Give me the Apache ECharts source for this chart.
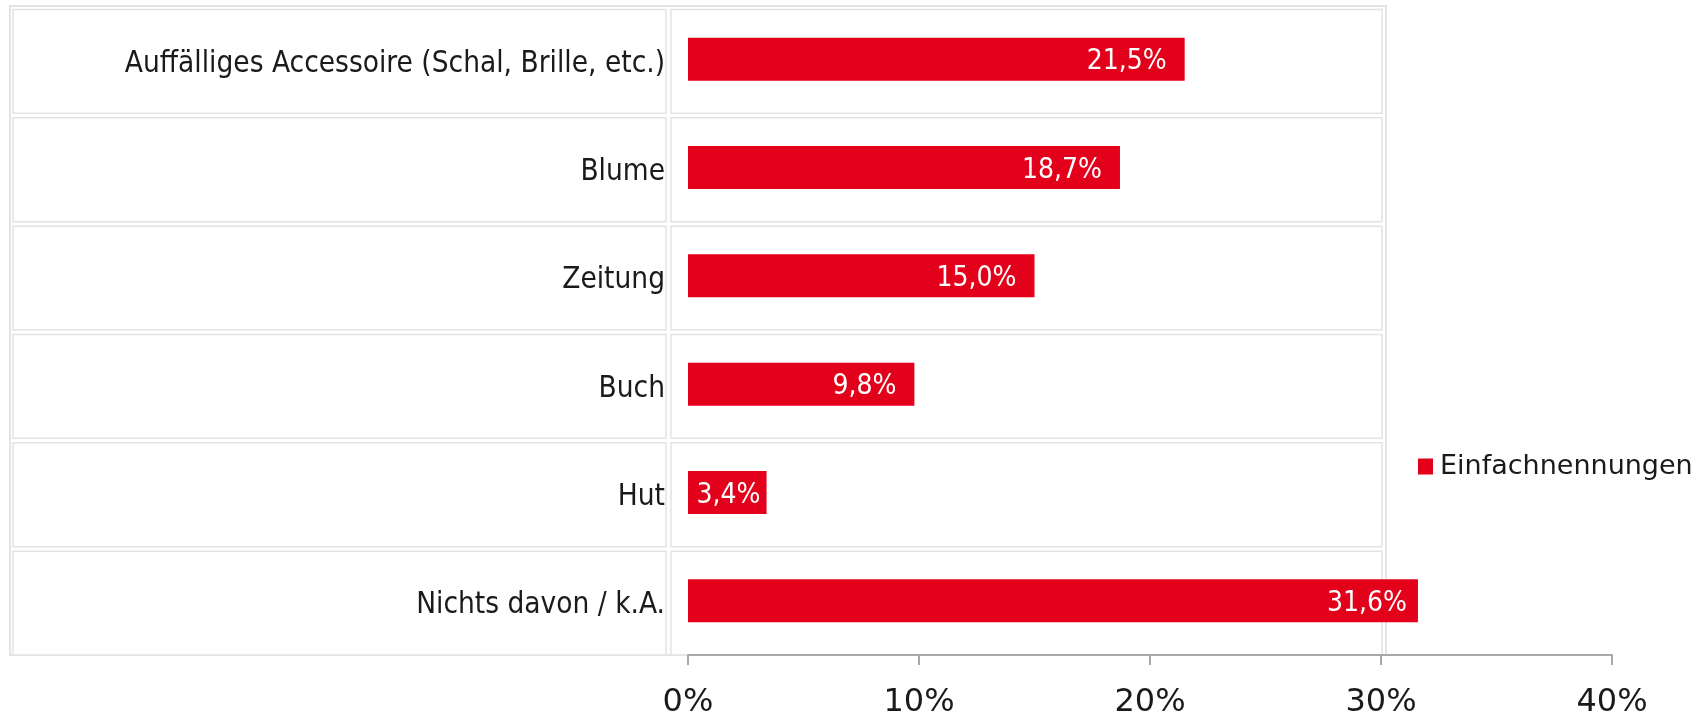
<!DOCTYPE html>
<html>
<head>
<meta charset="utf-8">
<script src="https://cdn.jsdelivr.net/npm/echarts@6/dist/echarts.min.js"></script>
<style>
html,body{margin:0;padding:0;background:#fff;}
#chart{width:1702px;height:715px;}
</style>
</head>
<body>
<div id="chart"></div>
<script>
const categories = ['Auffälliges Accessoire (Schal, Brille, etc.)', 'Blume', 'Zeitung', 'Buch', 'Hut', 'Nichts davon / k.A.'];
const values = [21.5, 18.7, 15.0, 9.8, 3.4, 31.6];
const seriesName = 'Einfachnennungen';
const xTicks = [0, 10, 20, 30, 40];

const RED = '#e2001a';
const CELL = '#e3e3e3';
const TEXT = '#1a1a1a';

const chart = echarts.init(document.getElementById('chart'), null, {renderer: 'canvas'});

function fmt(v) { return v.toFixed(1).replace('.', ',') + '%'; }

const option = {
  backgroundColor: '#ffffff',
  animation: false,
  grid: { left: 688, right: 90, top: 5, bottom: 60, containLabel: false, outerBoundsMode: 'none' },
  legend: {
    data: [seriesName],
    left: 1413,
    top: 448,
    icon: 'rect',
    itemWidth: 15,
    itemHeight: 16,
    itemGap: 10,
    textStyle: { fontFamily: 'DejaVu Sans', fontSize: 27, color: TEXT, padding: [0, 0, 0, 2] }
  },
  xAxis: {
    type: 'value',
    min: xTicks[0],
    max: xTicks[xTicks.length - 1],
    interval: 10,
    axisLine: { show: true, lineStyle: { color: '#a8a8a8', width: 2 } },
    axisTick: { show: true, length: 10, lineStyle: { color: '#a8a8a8', width: 2 } },
    splitLine: { show: false },
    axisLabel: {
      margin: 32,
      fontFamily: 'DejaVu Sans',
      fontSize: 32,
      lineHeight: 32,
      color: TEXT,
      formatter: function (v) { return v + '%'; }
    }
  },
  yAxis: {
    type: 'category',
    data: categories,
    inverse: true,
    axisLine: { show: false },
    axisTick: { show: false },
    splitLine: { show: false },
    axisLabel: { show: false }
  },
  series: [
    {
      type: 'custom',
      silent: true,
      z: 0,
      data: categories.map(function (c, i) { return [0, i]; }),
      encode: { x: 0, y: 1 },
      renderItem: function (params, api) {
        const cs = params.coordSys;
        const center = api.coord([0, api.value(1)]);
        const band = api.size([0, 1])[1];
        const top = center[1] - band / 2 + 4.5;
        const h = band - 4.5;
        const x30 = api.coord([30, 0])[0];
        const children = [
          { type: 'rect', shape: { x: cs.x - 675, y: top, width: 653, height: h },
            style: { fill: '#ffffff', stroke: CELL, lineWidth: 1.5 } },
          { type: 'rect', shape: { x: cs.x - 17, y: top, width: x30 + 1 - (cs.x - 17), height: h },
            style: { fill: '#ffffff', stroke: CELL, lineWidth: 1.5 } },
          { type: 'text', z2: 10,
            style: { text: categories[params.dataIndex], x: cs.x - 23, y: center[1] + 5,
              align: 'right', verticalAlign: 'middle',
              font: '29.5px "DejaVu Sans Condensed"', fill: TEXT } }
        ];
        if (params.dataIndex === 0) {
          children.unshift({ type: 'rect',
            shape: { x: cs.x - 678, y: cs.y + 1, width: x30 + 5 - (cs.x - 678), height: cs.height - 1 },
            style: { fill: '#ffffff', stroke: '#dcdcdc', lineWidth: 1.5 } });
        }
        return { type: 'group', children: children };
      }
    },
    {
      name: seriesName,
      type: 'bar',
      z: 5,
      data: values.map(function (v) {
        return { value: v, label: { distance: v < 5 ? 6 : (v > 30 ? 11 : 18) } };
      }),
      barWidth: 43,
      itemStyle: { color: RED },
      label: {
        show: true,
        position: 'insideRight',
        distance: 18,
        offset: [0, 3],
        fontFamily: 'DejaVu Sans Condensed',
        fontSize: 28,
        color: '#ffffff',
        formatter: function (p) { return fmt(p.value); }
      }
    }
  ]
};

chart.setOption(option);
</script>
</body>
</html>
